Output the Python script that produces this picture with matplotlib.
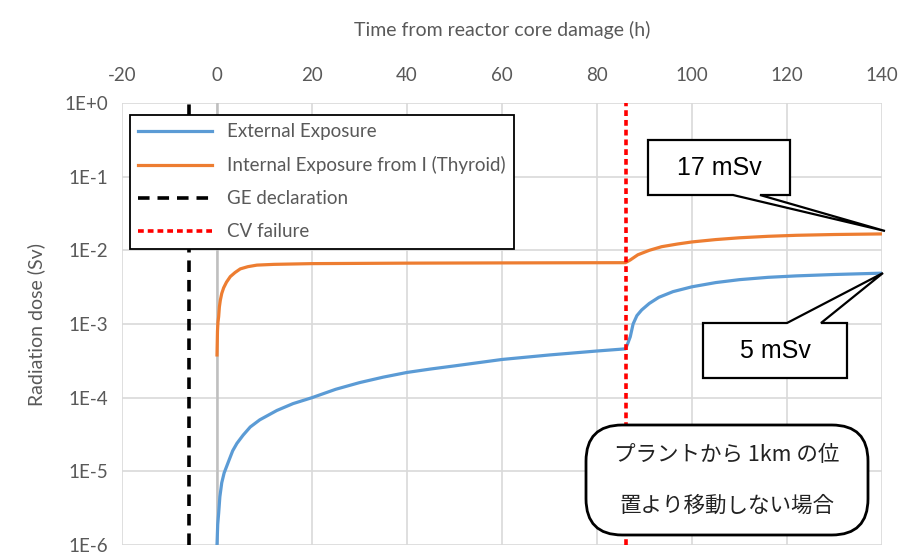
import matplotlib
matplotlib.use("Agg")
import matplotlib.pyplot as plt
from matplotlib.patches import Polygon, FancyBboxPatch
from matplotlib.ticker import FixedLocator, FuncFormatter

# data
ext_t = [0, 0.15, 0.35, 0.6, 1, 1.5, 2.5, 3.3, 4.2, 5.5, 7, 9, 12.6, 16, 20, 25, 30,
         35, 40, 45, 50, 60, 70, 80, 86,
         86.5, 87, 87.6, 88.4, 89.4, 91, 93, 96, 100, 105, 110, 116, 122, 130, 140]
ext_v = [1.0e-6, 1.9e-6, 2.7e-6, 4.5e-6, 7.0e-6, 9.5e-6, 1.4e-5, 1.9e-5, 2.4e-5, 3.1e-5,
         4.0e-5, 5.0e-5, 6.7e-5, 8.3e-5, 1.0e-4, 1.3e-4, 1.6e-4,
         1.9e-4, 2.2e-4, 2.45e-4, 2.7e-4, 3.3e-4, 3.8e-4, 4.3e-4, 4.6e-4,
         5.5e-4, 6.7e-4, 1.0e-3, 1.3e-3, 1.55e-3, 1.9e-3, 2.3e-3, 2.75e-3, 3.2e-3,
         3.65e-3, 4.0e-3, 4.3e-3, 4.5e-3, 4.7e-3, 4.9e-3]

int_t = [0, 0.1, 0.2, 0.35, 0.5, 0.7, 1, 1.4, 2, 2.8, 3.8, 4.9, 6.5, 8.4, 12, 20, 40, 60, 86,
         87, 88.6, 91, 93.6, 97, 100, 105, 110, 116, 122, 130, 140]
int_v = [3.8e-4, 8.0e-4, 1.05e-3, 1.26e-3, 1.7e-3, 2.1e-3, 2.6e-3, 3.1e-3, 3.7e-3, 4.4e-3,
         5.0e-3, 5.6e-3, 6.0e-3, 6.3e-3, 6.45e-3, 6.6e-3, 6.7e-3, 6.75e-3, 6.8e-3,
         7.4e-3, 8.7e-3, 1.0e-2, 1.12e-2, 1.22e-2, 1.3e-2, 1.4e-2, 1.48e-2, 1.55e-2,
         1.6e-2, 1.64e-2, 1.67e-2]

ge_time = -6
cv_time = 86

x_ticks = [-20, 0, 20, 40, 60, 80, 100, 120, 140]
y_ticks = [1e-6, 1e-5, 1e-4, 1e-3, 1e-2, 1e-1, 1e0]
y_labels = ["1E-6", "1E-5", "1E-4", "1E-3", "1E-2", "1E-1", "1E+0"]

W, H = 905, 555
plt.rcParams["font.family"] = ["Lato", "DejaVu Sans"]
plt.rcParams["axes.unicode_minus"] = False
grey = "#595959"

fig = plt.figure(figsize=(W / 100, H / 100), dpi=100)
ax = fig.add_axes([122 / W, 1 - 545 / H, 760 / W, 442 / H])

ax.set_yscale("log")
ax.set_xlim(-20, 140)
ax.set_ylim(1e-6, 1e0)
ax.xaxis.set_major_locator(FixedLocator(x_ticks))
ax.yaxis.set_major_locator(FixedLocator(y_ticks))
ax.yaxis.set_minor_locator(FixedLocator([]))
ax.yaxis.set_major_formatter(FuncFormatter(lambda v, p: y_labels[y_ticks.index(v)] if v in y_ticks else ""))
ax.xaxis.tick_top()
ax.xaxis.set_label_position("top")
ax.tick_params(length=0, labelsize=13.5, colors=grey, pad=14)
ax.tick_params(axis="y", pad=10)
ax.grid(True, color="#d9d9d9", lw=1.2)
ax.set_axisbelow(True)
for s in ax.spines.values():
    s.set_visible(False)
ax.axvline(0, color="#bfbfbf", lw=1.8, zorder=1)

ax.plot(ext_t, ext_v, color="#5b9bd5", lw=2.3, label="External Exposure", zorder=3)
ax.plot(int_t, int_v, color="#ed7d31", lw=2.3, label="Internal Exposure from I (Thyroid)", zorder=3)
ax.axvline(ge_time, color="black", lw=2.6, ls=(0, (3.2, 2.2)), label="GE declaration", zorder=4)
ax.axvline(cv_time, color="#ff0000", lw=2.6, ls=(0, (1.6, 1.1)), label="CV failure", zorder=4)

ax.set_xlabel("Time from reactor core damage (h)", fontsize=14, color=grey, labelpad=22)
ax.set_ylabel("Radiation dose (Sv)", fontsize=14, color=grey, labelpad=14)

leg = ax.legend(loc="upper left", bbox_to_anchor=(130 / W, 1 - 115 / H), bbox_transform=fig.transFigure,
                fontsize=13.5, frameon=True, fancybox=False, handlelength=3.9,
                borderaxespad=0, labelspacing=0.85, borderpad=0.45)
leg.get_frame().set_edgecolor("black")
leg.get_frame().set_linewidth(1.3)
leg.get_frame().set_alpha(1)
for t in leg.get_texts():
    t.set_color(grey)


def px(x, y):
    return (x / W, 1 - y / H)


# callout for internal exposure
call17 = [px(648, 140), px(790, 140), px(790, 195), px(760, 195), px(885, 231),
          px(733, 195), px(648, 195)]
fig.patches.append(Polygon(call17, closed=True, fc="white", ec="black", lw=1.6,
                           transform=fig.transFigure, zorder=5))
fig.text(*px(719, 168), "17 mSv", fontsize=18, family=["Liberation Sans"], ha="center", va="center", zorder=6)

call5 = [px(703, 323), px(787, 323), px(883, 273), px(821, 323), px(847, 323),
         px(847, 378), px(703, 378)]
fig.patches.append(Polygon(call5, closed=True, fc="white", ec="black", lw=1.6,
                           transform=fig.transFigure, zorder=5))
fig.text(*px(775, 351), "5 mSv", fontsize=18, family=["Liberation Sans"], ha="center", va="center", zorder=6)

# rounded note box
x0, y0 = px(586, 535)
x1, y1 = px(868, 425)
fig.patches.append(FancyBboxPatch((x0, y0), x1 - x0, y1 - y0,
                                  boxstyle="round,pad=0,rounding_size=0.04",
                                  mutation_aspect=W / H,
                                  fc="white", ec="black", lw=2, transform=fig.transFigure, zorder=5))
jp = ["Noto Sans CJK JP", "DejaVu Sans"]
fig.text(*px(727, 455), "プラントから 1km の位", fontsize=15.5, family=jp, color="#222222",
         ha="center", va="center", zorder=6)
fig.text(*px(727, 506), "置より移動しない場合", fontsize=15.5, family=jp, color="#222222",
         ha="center", va="center", zorder=6)

fig.savefig("out.png", dpi=100)
